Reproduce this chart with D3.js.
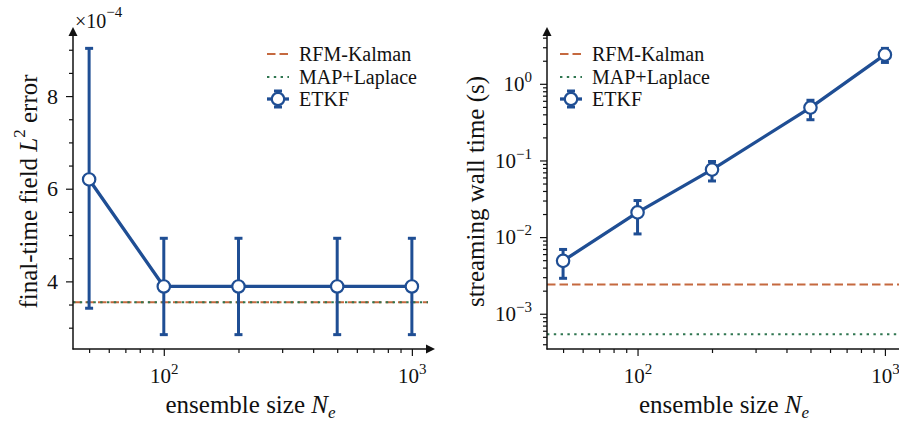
<!DOCTYPE html>
<html>
<head>
<meta charset="utf-8">
<script src="https://cdn.jsdelivr.net/npm/d3@7"></script>
<style>
  body { margin: 0; background: #fff; }
  text { font-family: "Liberation Serif", "Times New Roman", serif; fill: #111; }
</style>
</head>
<body>
<script>
'use strict';

// data
var ensembleSizes = [50, 100, 200, 500, 1000];

var etkfErr   = [6.2, 3.89, 3.89, 3.89, 3.89];   // x 1e-4
var etkfErrLo = [3.42, 2.85, 2.85, 2.85, 2.85];
var etkfErrHi = [9.03, 4.93, 4.93, 4.93, 4.93];
var rfmErr = 3.55;
var mapErr = 3.55;

var etkfTime   = [0.0049, 0.021, 0.076, 0.49, 2.4];
var etkfTimeLo = [0.0029, 0.011, 0.054, 0.34, 1.9];
var etkfTimeHi = [0.0069, 0.030, 0.097, 0.61, 2.9];
var rfmTime = 0.0024;
var mapTime = 0.00054;

var errMajor = [4, 6, 8];
var errMinor = [3, 3.5, 4.5, 5, 5.5, 6.5, 7, 7.5, 8.5, 9];
var xMajor = [100, 1000];
var xMinor = [50, 60, 70, 80, 90, 200, 300, 400, 500, 600, 700, 800, 900];
var timeMajor = [1e-3, 1e-2, 1e-1, 1];
var timeMinor = [];
[1e-4, 1e-3, 1e-2, 1e-1, 1].forEach(function(dec) {
  for (var k = 2; k <= 9; k++) timeMinor.push(dec * k);
});

var legendNames = ['RFM-Kalman', 'MAP+Laplace', 'ETKF'];

var blue = '#1f4e94', red = '#c5693f', green = '#2f7650';

var W = 899, H = 423;
var plotTop = 34, plotBottom = 349;
var tickFont = 22, labelFont = 25;

var svg = d3.select('body').append('svg')
  .attr('width', W).attr('height', H);

function styleTicks(g) {
  g.select('.domain').remove();
  g.selectAll('.tick line').attr('stroke', '#111').attr('stroke-width', 1.2);
  g.selectAll('text').attr('font-family', '"Liberation Serif", serif').attr('font-size', tickFont).attr('fill', '#111');
}

function powLabels(g) {
  g.selectAll('.tick text').attr('font-size', 21).each(function(d) {
    var e = Math.round(Math.log10(d));
    var t = d3.select(this);
    t.text('10');
    t.append('tspan').attr('dy', -9).attr('font-size', 15)
      .text(e < 0 ? '\u2212' + (-e) : String(e));
  });
}

function arrowAxes(g, x0, x1, yTop, yBot, xArrow) {
  g.append('line').attr('x1', x0).attr('x2', x0).attr('y1', yBot + 0.5).attr('y2', yTop - 2)
    .attr('stroke', '#111').attr('stroke-width', 1.5);
  g.append('line').attr('x1', x0 - 0.5).attr('x2', x1).attr('y1', yBot).attr('y2', yBot)
    .attr('stroke', '#111').attr('stroke-width', 1.5);
  g.append('path')
    .attr('d', 'M' + x0 + ',' + (yTop - 7) + 'l-4.5,9h9z')
    .attr('fill', '#111');
  if (xArrow)
    g.append('path')
      .attr('d', 'M' + (x1 + 7) + ',' + yBot + 'l-9,-4.5v9z')
      .attr('fill', '#111');
}

function drawSeries(g, x, y, mean, lo, hi) {
  var line = d3.line()
    .x(function(d, i) { return x(ensembleSizes[i]); })
    .y(function(d) { return y(d); });

  ensembleSizes.forEach(function(n, i) {
    var cx = x(n);
    g.append('line').attr('x1', cx).attr('x2', cx).attr('y1', y(lo[i])).attr('y2', y(hi[i]))
      .attr('stroke', blue).attr('stroke-width', 3);
    [lo[i], hi[i]].forEach(function(v) {
      g.append('line').attr('x1', cx - 4).attr('x2', cx + 4).attr('y1', y(v)).attr('y2', y(v))
        .attr('stroke', blue).attr('stroke-width', 3);
    });
  });

  g.append('path').datum(mean).attr('d', line)
    .attr('fill', 'none').attr('stroke', blue).attr('stroke-width', 3.3)
    .attr('stroke-linejoin', 'round');

  g.selectAll('circle.m').data(mean).enter().append('circle')
    .attr('cx', function(d, i) { return x(ensembleSizes[i]); })
    .attr('cy', function(d) { return y(d); })
    .attr('r', 6.2)
    .attr('fill', '#fff').attr('stroke', blue).attr('stroke-width', 2.2);
}

function hline(g, x0, x1, yv, kind) {
  var l = g.append('line').attr('x1', x0).attr('x2', x1).attr('y1', yv).attr('y2', yv)
    .attr('stroke-width', 2);
  if (kind === 'dash') l.attr('stroke', red).attr('stroke-dasharray', '8.5,4');
  else l.attr('stroke', green).attr('stroke-dasharray', '2.4,4.4');
  return l;
}

function legend(g, lx, rows) {
  rows.forEach(function(ry, i) {
    if (i === 0) hline(g, lx, lx + 22, ry, 'dash');
    else if (i === 1) hline(g, lx, lx + 22, ry, 'dot');
    else {
      var cx = lx + 11;
      g.append('line').attr('x1', lx).attr('x2', lx + 22).attr('y1', ry).attr('y2', ry)
        .attr('stroke', blue).attr('stroke-width', 3.3);
      g.append('line').attr('x1', cx).attr('x2', cx).attr('y1', ry - 8).attr('y2', ry + 8)
        .attr('stroke', blue).attr('stroke-width', 3);
      [ry - 8, ry + 8].forEach(function(v) {
        g.append('line').attr('x1', cx - 4).attr('x2', cx + 4).attr('y1', v).attr('y2', v)
          .attr('stroke', blue).attr('stroke-width', 3);
      });
      g.append('circle').attr('cx', cx).attr('cy', ry).attr('r', 6.2)
        .attr('fill', '#fff').attr('stroke', blue).attr('stroke-width', 2.2);
    }
    g.append('text').attr('x', lx + 32).attr('y', ry + 6.5).attr('font-size', 20)
      .text(legendNames[i]);
  });
}

function xAxisFor(g, x) {
  g.append('g').attr('transform', 'translate(0,' + plotBottom + ')')
    .call(d3.axisBottom(x).tickValues(xMinor).tickSize(4).tickFormat(''))
    .call(styleTicks);
  g.append('g').attr('transform', 'translate(0,' + plotBottom + ')')
    .call(d3.axisBottom(x).tickValues(xMajor).tickSize(7).tickPadding(12))
    .call(styleTicks).call(powLabels);
}

function xlab(g, cx) {
  var t = g.append('text').attr('x', cx).attr('y', 413).attr('text-anchor', 'middle').attr('font-size', labelFont);
  t.append('tspan').text('ensemble size ');
  t.append('tspan').attr('font-style', 'italic').text('N');
  t.append('tspan').attr('font-style', 'italic').attr('dy', 5).attr('font-size', 17).text('e');
}

// ---------------- left panel: error ----------------
var xL = d3.scaleLog().domain([Math.pow(10, 1.634), Math.pow(10, 3.065)]).range([73, 428]);
var yL = d3.scaleLinear().domain([2.54, 9.34]).range([plotBottom, plotTop]);

var gl = svg.append('g');
hline(gl, 73, 428, yL(rfmErr), 'dash');
hline(gl, 73, 428, yL(mapErr), 'dot');
drawSeries(gl, xL, yL, etkfErr, etkfErrLo, etkfErrHi);

gl.append('g').attr('transform', 'translate(73,0)')
  .call(d3.axisLeft(yL).tickValues(errMinor).tickSize(4).tickFormat(''))
  .call(styleTicks);
gl.append('g').attr('transform', 'translate(73,0)')
  .call(d3.axisLeft(yL).tickValues(errMajor).tickSize(7).tickPadding(8).tickFormat(d3.format('d')))
  .call(styleTicks);
xAxisFor(gl, xL);
arrowAxes(gl, 73, 428, plotTop, plotBottom, true);

var off = gl.append('text').attr('x', 75).attr('y', 28).attr('font-size', 20);
off.append('tspan').text('\u00d710');
off.append('tspan').attr('dy', -11).attr('font-size', 15).text('\u22124');

legend(gl, 267, [54, 77, 99]);

var ylab = gl.append('text').attr('transform', 'translate(37,' + ((plotTop + plotBottom) / 2) + ') rotate(-90)')
  .attr('text-anchor', 'middle').attr('font-size', labelFont);
ylab.append('tspan').text('final-time field ');
ylab.append('tspan').attr('font-style', 'italic').text('L');
ylab.append('tspan').attr('dy', -12).attr('font-size', 17).text('2');
ylab.append('tspan').attr('dy', 12).text(' error');

xlab(gl, 250.5);

// ---------------- right panel: wall time ----------------
var xR = d3.scaleLog().domain([Math.pow(10, 1.634), Math.pow(10, 3.065)]).range([547, 901]);
var yR = d3.scaleLog().domain([Math.pow(10, -3.46), Math.pow(10, 0.65)]).range([plotBottom, plotTop]);

var gr = svg.append('g');
hline(gr, 547, 901, yR(rfmTime), 'dash');
hline(gr, 547, 901, yR(mapTime), 'dot');
drawSeries(gr, xR, yR, etkfTime, etkfTimeLo, etkfTimeHi);

var yDom = yR.domain();
gr.append('g').attr('transform', 'translate(547,0)')
  .call(d3.axisLeft(yR).tickValues(timeMinor.filter(function(v) { return v >= yDom[0] && v <= yDom[1]; }))
    .tickSize(4).tickFormat(''))
  .call(styleTicks);
gr.append('g').attr('transform', 'translate(547,0)')
  .call(d3.axisLeft(yR).tickValues(timeMajor).tickSize(7).tickPadding(8))
  .call(styleTicks).call(powLabels);
xAxisFor(gr, xR);
arrowAxes(gr, 547, 901, plotTop, plotBottom, true);

legend(gr, 560, [54, 77, 99]);

gr.append('text').attr('transform', 'translate(484,' + ((plotTop + plotBottom) / 2) + ') rotate(-90)')
  .attr('text-anchor', 'middle').attr('font-size', labelFont)
  .text('streaming wall time (s)');
xlab(gr, 724);
</script>
</body>
</html>
